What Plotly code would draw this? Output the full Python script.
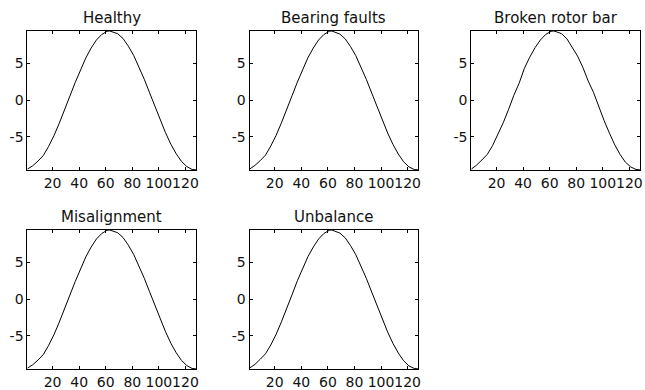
import plotly.graph_objects as go

titles = ["Healthy", "Bearing faults", "Broken rotor bar", "Misalignment", "Unbalance"]

x_vals = [1, 5, 9, 13, 17, 21, 25, 29, 33, 37, 41, 45, 49, 53, 57, 61, 63,
          65, 69, 73, 77, 81, 85, 89, 93, 97, 101, 105, 109, 113, 117, 121, 125, 128]

healthy = [-9.40, -8.95, -8.30, -7.55, -6.30, -4.85, -3.15, -1.40, 0.55, 2.40, 4.15,
           5.75, 7.10, 8.20, 8.95, 9.38, 9.42, 9.30, 9.05, 8.40, 7.35, 6.10, 4.55,
           2.85, 1.00, -0.90, -2.75, -4.45, -6.00, -7.30, -8.35, -9.05, -9.45, -9.50]
bearing = [-9.40, -8.90, -8.25, -7.50, -6.25, -4.80, -3.10, -1.35, 0.60, 2.45, 4.20,
           5.80, 7.10, 8.20, 8.95, 9.38, 9.42, 9.30, 9.00, 8.35, 7.30, 6.05, 4.50,
           2.80, 0.95, -0.95, -2.80, -4.50, -6.05, -7.35, -8.40, -9.10, -9.45, -9.50]
broken = [-9.40, -8.85, -8.15, -7.40, -6.20, -4.75, -3.10, -1.30, 0.65, 2.30, 4.35,
          5.85, 7.15, 8.20, 8.95, 9.38, 9.42, 9.32, 9.05, 8.35, 7.25, 6.00, 4.45,
          2.60, 1.05, -0.90, -2.80, -4.50, -6.10, -7.40, -8.45, -9.10, -9.45, -9.50]
misalign = [-9.40, -8.95, -8.30, -7.55, -6.30, -4.85, -3.15, -1.40, 0.55, 2.40, 4.15,
            5.75, 7.10, 8.20, 8.95, 9.38, 9.42, 9.30, 9.05, 8.40, 7.35, 6.10, 4.55,
            2.85, 1.00, -0.90, -2.75, -4.45, -6.00, -7.30, -8.35, -9.05, -9.45, -9.50]
unbalance = [-9.40, -8.90, -8.20, -7.45, -6.25, -4.80, -3.10, -1.35, 0.60, 2.50, 4.25,
             5.80, 7.10, 8.20, 8.95, 9.38, 9.42, 9.30, 9.00, 8.35, 7.30, 6.05, 4.50,
             2.80, 0.95, -0.95, -2.80, -4.50, -6.05, -7.35, -8.40, -9.10, -9.45, -9.50]

series = [healthy, bearing, broken, misalign, unbalance]

x_ticks = [20, 40, 60, 80, 100, 120]
y_ticks = [-5, 0, 5]

W, H = 645, 390
col_left = [27.5, 250.7, 473.5]
col_w = 169.5
row_top = [31, 230]
row_h = 139

fig = go.Figure()
font_tick = dict(family="DejaVu Sans", size=14, color="#111111")

for i, (t, yv) in enumerate(zip(titles, series)):
    r, c = divmod(i, 3)
    n = i + 1
    xa = "x" if n == 1 else f"x{n}"
    ya = "y" if n == 1 else f"y{n}"
    fig.add_trace(go.Scatter(x=x_vals, y=yv, mode="lines",
                             line=dict(color="black", width=1),
                             xaxis=xa, yaxis=ya, showlegend=False,
                             hoverinfo="skip"))
    x0 = col_left[c] / W
    x1 = (col_left[c] + col_w) / W
    y1 = 1 - row_top[r] / H
    y0 = 1 - (row_top[r] + row_h) / H
    common = dict(showline=True, linecolor="black", linewidth=1, mirror="ticks",
                  ticks="inside", ticklen=3, tickcolor="black", tickwidth=1,
                  showgrid=False, zeroline=False, tickfont=font_tick,
                  tickangle=0, fixedrange=True)
    fig.layout[f"xaxis{'' if n == 1 else n}"] = dict(
        domain=[x0, x1], range=[1, 128], tickvals=x_ticks,
        ticktext=[str(v) for v in x_ticks], anchor=ya, **common)
    fig.layout[f"yaxis{'' if n == 1 else n}"] = dict(
        domain=[y0, y1], range=[-9.52, 9.42], tickvals=y_ticks,
        ticktext=[str(v) for v in y_ticks], anchor=xa, **common)
    fig.add_annotation(text=t, xref="paper", yref="paper",
                       x=(x0 + x1) / 2, y=y1, xanchor="center", yanchor="bottom",
                       yshift=2, showarrow=False,
                       font=dict(family="DejaVu Sans", size=15, color="#111111"))

fig.update_layout(width=W, height=H, autosize=False,
                  margin=dict(l=0, r=0, t=0, b=0),
                  paper_bgcolor="white", plot_bgcolor="white")

fig.write_html("out.html")
